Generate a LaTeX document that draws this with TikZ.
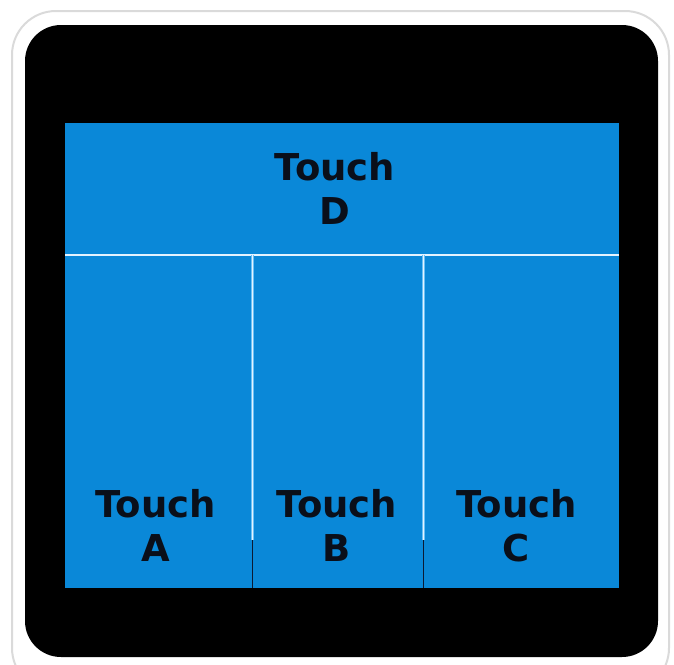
\documentclass[tikz,border=0pt]{standalone}
\usepackage{fontspec}
\newfontfamily\padfont{DejaVu Sans}
\usepackage{tikz}
\usetikzlibrary{positioning}
\definecolor{rim}{HTML}{DADADA}
\definecolor{bezel}{HTML}{000000}
\definecolor{screen}{HTML}{0A88D8}
\definecolor{seam}{HTML}{E4F3FF}
\definecolor{seamglow}{HTML}{6CC0F5}
\definecolor{seamdark}{HTML}{0B1A33}
\definecolor{ink}{HTML}{0A0F1A}
\newcommand{\padsize}{\fontsize{37}{44}\selectfont\bfseries}

\begin{document}
\begin{tikzpicture}[x=1pt,y=-1pt,
  padlabel/.style={anchor=base,align=center,text=ink,inner sep=0pt,font=\padfont\padsize}]
  \useasboundingbox (0,0) rectangle (674,664);
  % case outline and bezel
  \begin{scope}
    \clip (0,0) rectangle (674,664);
    \draw[rim,line width=2pt,rounded corners=44pt] (12,11) rectangle (669,692);
  \end{scope}
  \fill[bezel,rounded corners=36pt] (25,25) rectangle (658,657);
  \fill[screen] (65,123) rectangle (619,588);
  % seams
  \coordinate (hl) at (65,255);
  \coordinate (hr) at (619,255);
  \draw[seamglow,line width=2.6pt] (hl) -- (hr);
  \draw[seam,line width=1.2pt] (hl) -- (hr);
  \foreach \x/\nm in {252.5/ab,423.5/bc}
  {
    \coordinate (\nm top) at (\x,255);
    \coordinate (\nm mid) at (\x,540);
    \coordinate (\nm bot) at (\x,588);
    \draw[seamglow,line width=2.6pt] (\nm top) -- (\nm mid);
    \draw[seam,line width=1.2pt] (\nm top) -- (\nm mid);
    \draw[seamdark,line width=1.6pt] (\nm mid) -- (\nm bot);
  }
  % touch zones (base = last line)
  \node[padlabel] (D) at (335,224) {Touch\\D};
  \foreach \x/\zone in {155.5/A,337/B,516.5/C}
  {
    \node[padlabel] (\zone) at (\x,561) {Touch\\\zone};
  }
\end{tikzpicture}
\end{document}
